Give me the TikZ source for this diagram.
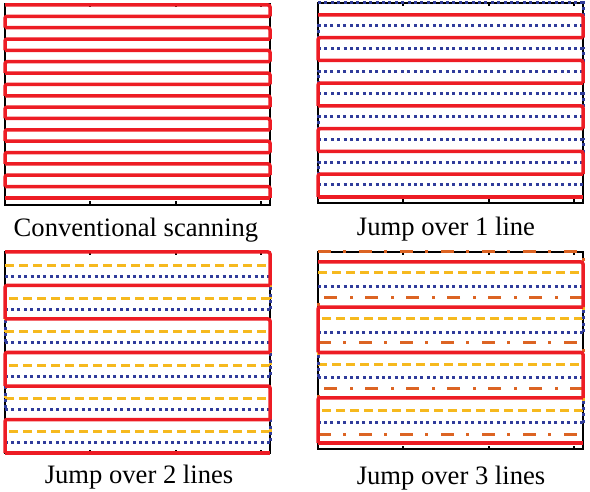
\documentclass[tikz,border=0pt]{standalone}
\usepackage{fontspec}
\setmainfont{Liberation Serif}

\definecolor{scanred}{RGB}{237,28,36}
\definecolor{scanblue}{RGB}{48,60,155}
\definecolor{scanyellow}{RGB}{246,185,30}
\definecolor{scanorange}{RGB}{220,100,35}

\tikzset{axisbox/.style = {draw = black,
                           line width = 2pt},
         redpass/.style = {draw = scanred,
                           line width = 3.5pt,
                           rounded corners = 2pt},
         bluepass/.style = {draw = scanblue,
                            line width = 3pt,
                            dash pattern = on 3pt off 3.4pt},
         yellowpass/.style = {draw = scanyellow,
                              line width = 3pt,
                              dash pattern = on 9pt off 5pt},
         orangepass/.style = {draw = scanorange,
                              line width = 3pt,
                              dash pattern = on 13pt off 12pt on 3pt off 13pt},
         capt/.style = {font = \fontsize{26.6}{30}\selectfont,
                        anchor = base,
                        inner sep = 0pt}}

% serpentine pass: style, left x, right x, first y, line gap, last index
\newcommand{\scanlines}[6]{%
  \foreach \i in {0,...,#6} {
    \pgfmathsetmacro{\yy}{#4+\i*#5}
    \pgfmathsetmacro{\yn}{#4+(\i+1)*#5}
    \ifodd\i \def\xs{#3}\def\xe{#2}\else \def\xs{#2}\def\xe{#3}\fi
    \ifnum\i<#6
      \draw[#1] (\xs,\yy) -- (\xe,\yy) -- (\xe,\yn);
    \else
      \draw[#1] (\xs,\yy) -- (\xe,\yy);
    \fi
  }
}

% plot frame with ticks: left, top, right, bottom
\newcommand{\axisframe}[4]{%
  \draw[axisbox] (#1,#2) rectangle (#3,#4);
  \foreach \k in {1,2,3} {
    \draw[axisbox] (#1+85.3*\k,#2) -- ++(0,3.5);
    \draw[axisbox] (#1+85.3*\k,#4) -- ++(0,-3.5);
  }
}

\begin{document}
\begin{tikzpicture}[x=1pt, y=-1pt]
  \useasboundingbox (0,0) rectangle (590,492);

  % conventional scanning
  \axisframe{5}{4}{270}{205}
  \scanlines{redpass}{5}{270}{5}{11.35}{17}
  \node[capt] (lblconv) at (136,237) {Conventional scanning};

  % jump over 1 line
  \axisframe{318}{3}{583}{203}
  \scanlines{bluepass}{318}{583}{3}{22.75}{8}
  \scanlines{redpass}{318}{583}{15}{22.75}{8}
  \node[capt] (lblone) at (446,236) {Jump over 1 line};

  % jump over 2 lines
  \axisframe{5}{252}{270}{453}
  \scanlines{yellowpass}{5}{270}{265.5}{33.2}{5}
  \scanlines{bluepass}{5}{270}{277}{33}{5}
  \scanlines{redpass}{5}{270}{252}{33.5}{6}
  \node[capt] (lbltwo) at (139,483) {Jump over 2 lines};

  % jump over 3 lines
  \axisframe{318}{252}{583}{449}
  \scanlines{orangepass}{318}{583}{252}{45.5}{4}
  \scanlines{yellowpass}{318}{583}{273}{45.7}{3}
  \scanlines{bluepass}{318}{583}{287}{45.3}{3}
  \scanlines{redpass}{318}{583}{262}{45.25}{4}
  \node[capt] (lblthree) at (451,484) {Jump over 3 lines};
\end{tikzpicture}
\end{document}
